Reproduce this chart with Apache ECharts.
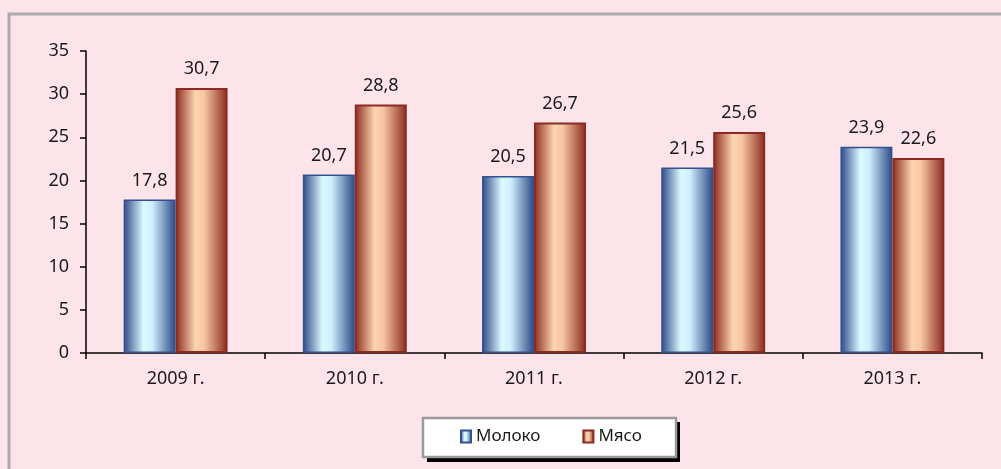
<!DOCTYPE html>
<html lang="ru" style="height: 100%">
<head>
  <meta charset="utf-8">
</head>
<body style="height: 100%; margin: 0; background: #fde4ea">
  <div id="container" style="height: 100%"></div>
  <script type="text/javascript" src="https://cdn.jsdelivr.net/npm/echarts@6/dist/echarts.min.js"></script>
  <script type="text/javascript">
    var years = ['2009 г.', '2010 г.', '2011 г.', '2012 г.', '2013 г.'];
    var milk = [17.8, 20.7, 20.5, 21.5, 23.9];
    var meat = [30.7, 28.8, 26.7, 25.6, 22.6];
    var seriesNames = ['Молоко', 'Мясо'];

    var dom = document.getElementById('container');
    var myChart = echarts.init(dom, null, { renderer: 'canvas' });

    var font = '"Noto Sans", sans-serif';
    var fs = 18;

    function barGrad(dark, light, mid) {
      return new echarts.graphic.LinearGradient(0, 0, 1, 0, [
        { offset: 0, color: dark },
        { offset: 0.38, color: light },
        { offset: 0.55, color: mid },
        { offset: 1, color: dark }
      ]);
    }

    function commaLabel(p) {
      return String(p.value).replace('.', ',');
    }

    var labelStyle = {
      show: true,
      position: 'top',
      distance: 10,
      color: '#1a1a1a',
      fontFamily: font,
      fontSize: fs,
      formatter: commaLabel
    };

    var option = {
      backgroundColor: '#fde4ea',
      animation: false,
      graphic: [
        {
          type: 'rect',
          shape: { x: 9, y: 14, width: 1100, height: 600 },
          style: { fill: 'none', stroke: '#ababab', lineWidth: 3 },
          silent: true
        },
        // legend frame with hard shadow
        {
          type: 'rect',
          shape: { x: 427, y: 422, width: 253, height: 40 },
          style: { fill: '#000000' },
          silent: true, z: -1
        },
        {
          type: 'rect',
          shape: { x: 423, y: 418, width: 253, height: 39 },
          style: { fill: '#ffffff', stroke: '#9a9a9a', lineWidth: 2.5 },
          silent: true, z: -1
        }
      ],
      grid: { left: 86, right: 19, top: 51, bottom: 116 },
      legend: {
        left: 460,
        top: 428,
        padding: 0,
        itemGap: 42,
        itemWidth: 10,
        itemHeight: 12,
        icon: 'rect',
        textStyle: { color: '#1a1a1a', fontFamily: font, fontSize: 17 },
        data: seriesNames
      },
      xAxis: {
        type: 'category',
        data: years,
        axisLine: { lineStyle: { color: '#000', width: 1.5 } },
        axisTick: { show: true, length: 6, lineStyle: { color: '#000', width: 1.5 } },
        axisLabel: { color: '#1a1a1a', fontFamily: font, fontSize: fs, margin: 17 }
      },
      yAxis: {
        type: 'value',
        min: 0,
        max: 35,
        interval: 5,
        splitLine: { show: false },
        axisLine: { show: true, lineStyle: { color: '#000', width: 1.5 } },
        axisTick: { show: true, length: 6, lineStyle: { color: '#000', width: 1.5 } },
        axisLabel: { color: '#1a1a1a', fontFamily: font, fontSize: fs, margin: 17 }
      },
      series: [
        {
          name: seriesNames[0],
          type: 'bar',
          data: milk,
          barGap: '0%',
          barCategoryGap: '42%',
          itemStyle: {
            color: barGrad('#2c4886', '#dcf9ff', '#d0effd'),
            borderColor: '#33518f',
            borderWidth: 1.5
          },
          label: labelStyle
        },
        {
          name: seriesNames[1],
          type: 'bar',
          data: meat,
          barGap: '0%',
          barCategoryGap: '42%',
          itemStyle: {
            color: barGrad('#8a2a1e', '#fdd4b0', '#f6c6a2'),
            borderColor: '#8b2a22',
            borderWidth: 2
          },
          label: labelStyle
        }
      ]
    };

    myChart.setOption(option);
    window.addEventListener('resize', myChart.resize);
  </script>
</body>
</html>
